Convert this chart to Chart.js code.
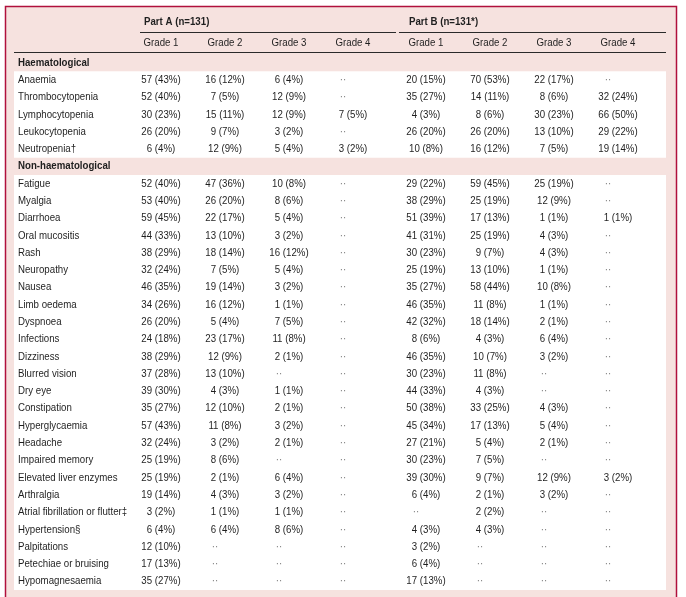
<!DOCTYPE html>
<html>
<head>
<meta charset="utf-8">
<script src="https://cdn.jsdelivr.net/npm/chart.js@4.4.0/dist/chart.umd.min.js"></script>
<style>
  html, body { margin: 0; padding: 0; background: #fff; }
</style>
</head>
<body>
<canvas id="aeTable" width="686" height="597"></canvas>
<script>
const partLabels = ['Part A (n=131)', 'Part B (n=131*)'];
const gradeLabels = ['Grade 1', 'Grade 2', 'Grade 3', 'Grade 4'];
const sectionLabels = ['Haematological', 'Non-haematological'];

const haemEvents = ['Anaemia', 'Thrombocytopenia', 'Lymphocytopenia', 'Leukocytopenia', 'Neutropenia\u2020'];
const nonHaemEvents = [
  'Fatigue', 'Myalgia', 'Diarrhoea', 'Oral mucositis', 'Rash', 'Neuropathy', 'Nausea',
  'Limb oedema', 'Dyspnoea', 'Infections', 'Dizziness', 'Blurred vision', 'Dry eye',
  'Constipation', 'Hyperglycaemia', 'Headache', 'Impaired memory', 'Elevated liver enzymes',
  'Arthralgia', 'Atrial fibrillation or flutter\u2021', 'Hypertension\u00a7', 'Palpitations',
  'Petechiae or bruising', 'Hypomagnesaemia'
];

// [n, %] per event, null = none (shown as ··)
const aG1 = [[57,43],[52,40],[30,23],[26,20],[6,4],
  [52,40],[53,40],[59,45],[44,33],[38,29],[32,24],[46,35],[34,26],[26,20],[24,18],[38,29],[37,28],
  [39,30],[35,27],[57,43],[32,24],[25,19],[25,19],[19,14],[3,2],[6,4],[12,10],[17,13],[35,27]];
const aG2 = [[16,12],[7,5],[15,11],[9,7],[12,9],
  [47,36],[26,20],[22,17],[13,10],[18,14],[7,5],[19,14],[16,12],[5,4],[23,17],[12,9],[13,10],
  [4,3],[12,10],[11,8],[3,2],[8,6],[2,1],[4,3],[1,1],[6,4],null,null,null];
const aG3 = [[6,4],[12,9],[12,9],[3,2],[5,4],
  [10,8],[8,6],[5,4],[3,2],[16,12],[5,4],[3,2],[1,1],[7,5],[11,8],[2,1],null,
  [1,1],[2,1],[3,2],[2,1],null,[6,4],[3,2],[1,1],[8,6],null,null,null];
const aG4 = [null,null,[7,5],null,[3,2],
  null,null,null,null,null,null,null,null,null,null,null,null,
  null,null,null,null,null,null,null,null,null,null,null,null];
const bG1 = [[20,15],[35,27],[4,3],[26,20],[10,8],
  [29,22],[38,29],[51,39],[41,31],[30,23],[25,19],[35,27],[46,35],[42,32],[8,6],[46,35],[30,23],
  [44,33],[50,38],[45,34],[27,21],[30,23],[39,30],[6,4],null,[4,3],[3,2],[6,4],[17,13]];
const bG2 = [[70,53],[14,11],[8,6],[26,20],[16,12],
  [59,45],[25,19],[17,13],[25,19],[9,7],[13,10],[58,44],[11,8],[18,14],[4,3],[10,7],[11,8],
  [4,3],[33,25],[17,13],[5,4],[7,5],[9,7],[2,1],[2,2],[4,3],null,null,null];
const bG3 = [[22,17],[8,6],[30,23],[13,10],[7,5],
  [25,19],[12,9],[1,1],[4,3],[4,3],[1,1],[10,8],[1,1],[2,1],[6,4],[3,2],null,
  null,[4,3],[5,4],[2,1],null,[12,9],[3,2],null,null,null,null,null];
const bG4 = [null,[32,24],[66,50],[29,22],[19,14],
  null,null,[1,1],null,null,null,null,null,null,null,null,null,
  null,null,null,null,null,[3,2],null,null,null,null,null,null];

const columns = [aG1, aG2, aG3, aG4, bG1, bG2, bG3, bG4];
const events = haemEvents.concat(nonHaemEvents);
const rowLabels = [sectionLabels[0]].concat(haemEvents, [sectionLabels[1]], nonHaemEvents);

const PART_GAP = 4.14; // part B starts this many grade-widths after part A
const PINK = '#f6e2df';
const RED = '#b0103c';
const TEXT = '#1f1f1f';
const FONT = '"Liberation Sans", Arial, sans-serif';
const SX = 0.88; // squeeze text to look like the narrow original face

function txt(ctx, s, x, y, align, bold, color) {
  ctx.save();
  ctx.translate(x, y);
  ctx.scale(SX, 1);
  ctx.font = (bold ? 'bold ' : '') + '11px ' + FONT;
  ctx.fillStyle = color || TEXT;
  ctx.textAlign = align || 'left';
  ctx.textBaseline = 'middle';
  ctx.fillText(s, 0, 0);
  ctx.restore();
}

function hline(ctx, x1, x2, y) {
  ctx.save();
  ctx.strokeStyle = '#2a2a2a';
  ctx.lineWidth = 1;
  ctx.beginPath();
  ctx.moveTo(x1, Math.round(y) + 0.5);
  ctx.lineTo(x2, Math.round(y) + 0.5);
  ctx.stroke();
  ctx.restore();
}

const tablePlugin = {
  id: 'tablePlugin',
  beforeDraw(chart) {
    const ctx = chart.ctx;
    const y = chart.scales.y;
    const W = chart.width, H = chart.height;
    const band = y.getPixelForValue(1) - y.getPixelForValue(0);
    ctx.save();
    ctx.fillStyle = '#fff';
    ctx.fillRect(0, 0, W, H);
    // frame
    ctx.fillStyle = PINK;
    ctx.fillRect(5, 6, 671, H - 6);
    // white blocks under the event rows of each section
    ctx.fillStyle = '#fff';
    const blocks = [[haemEvents[0], haemEvents[haemEvents.length - 1]],
                    [nonHaemEvents[0], nonHaemEvents[nonHaemEvents.length - 1]]];
    blocks.forEach(([first, last]) => {
      const t = y.getPixelForValue(rowLabels.indexOf(first)) - band / 2;
      const b = y.getPixelForValue(rowLabels.indexOf(last)) + band / 2;
      ctx.fillRect(14, t, 652, b - t);
    });
    ctx.strokeStyle = RED;
    ctx.lineWidth = 1.5;
    ctx.beginPath();
    ctx.moveTo(5.5, H);
    ctx.lineTo(5.5, 6.5);
    ctx.lineTo(676.5, 6.5);
    ctx.lineTo(676.5, H);
    ctx.stroke();
    ctx.restore();
  },
  afterDatasetsDraw(chart) {
    const ctx = chart.ctx;
    const y = chart.scales.y;
    const x = chart.scales.x;
    const top = y.getPixelForValue(0);

    // header rows
    const partY = top - 41, gradeY = top - 20;
    partLabels.forEach((p, pi) => {
      txt(ctx, p, x.getPixelForValue(pi * PART_GAP) - 17, partY, 'left', true);
    });
    hline(ctx, x.getPixelForValue(0) - 21, x.getPixelForValue(3) + 43, partY + 10);
    hline(ctx, x.getPixelForValue(PART_GAP) - 27, 666, partY + 10);
    for (let pi = 0; pi < 2; pi++) {
      gradeLabels.forEach((g, gi) => {
        txt(ctx, g, x.getPixelForValue(pi * PART_GAP + gi) - 17.5, gradeY, 'left', false);
      });
    }
    hline(ctx, 14, 666, gradeY + 9);

    // row labels
    rowLabels.forEach((r, i) => {
      txt(ctx, r, 18, y.getPixelForValue(i), 'left', sectionLabels.includes(r));
    });

    // cells, positioned from each point element
    chart.data.datasets.forEach((ds, di) => {
      const meta = chart.getDatasetMeta(di);
      meta.data.forEach((pt, i) => {
        const cell = ds.cells[i];
        if (cell) {
          txt(ctx, cell[0] + ' (' + cell[1] + '%)', pt.x, pt.y, 'center', false);
        } else {
          txt(ctx, '\u00b7\u00b7', pt.x - 10, pt.y, 'center', false, '#7a7a7a');
        }
      });
    });
  }
};

const datasets = columns.map((col, c) => {
  const part = Math.floor(c / 4), grade = c % 4;
  return {
    label: partLabels[part] + ' ' + gradeLabels[grade],
    cells: col,
    data: events.map(ev => ({ x: part * PART_GAP + grade, y: ev })),
    pointRadius: 0,
    pointHoverRadius: 0
  };
});

new Chart(document.getElementById('aeTable').getContext('2d'), {
  type: 'scatter',
  data: { datasets: datasets },
  options: {
    responsive: false,
    animation: false,
    events: [],
    layout: { padding: { left: 161, right: 68, top: 54, bottom: 7 } },
    plugins: { legend: { display: false }, tooltip: { enabled: false } },
    scales: {
      x: { type: 'linear', min: 0, max: PART_GAP + 3, display: false },
      y: { type: 'category', labels: rowLabels, offset: true, display: false }
    }
  },
  plugins: [tablePlugin]
});
</script>
</body>
</html>
